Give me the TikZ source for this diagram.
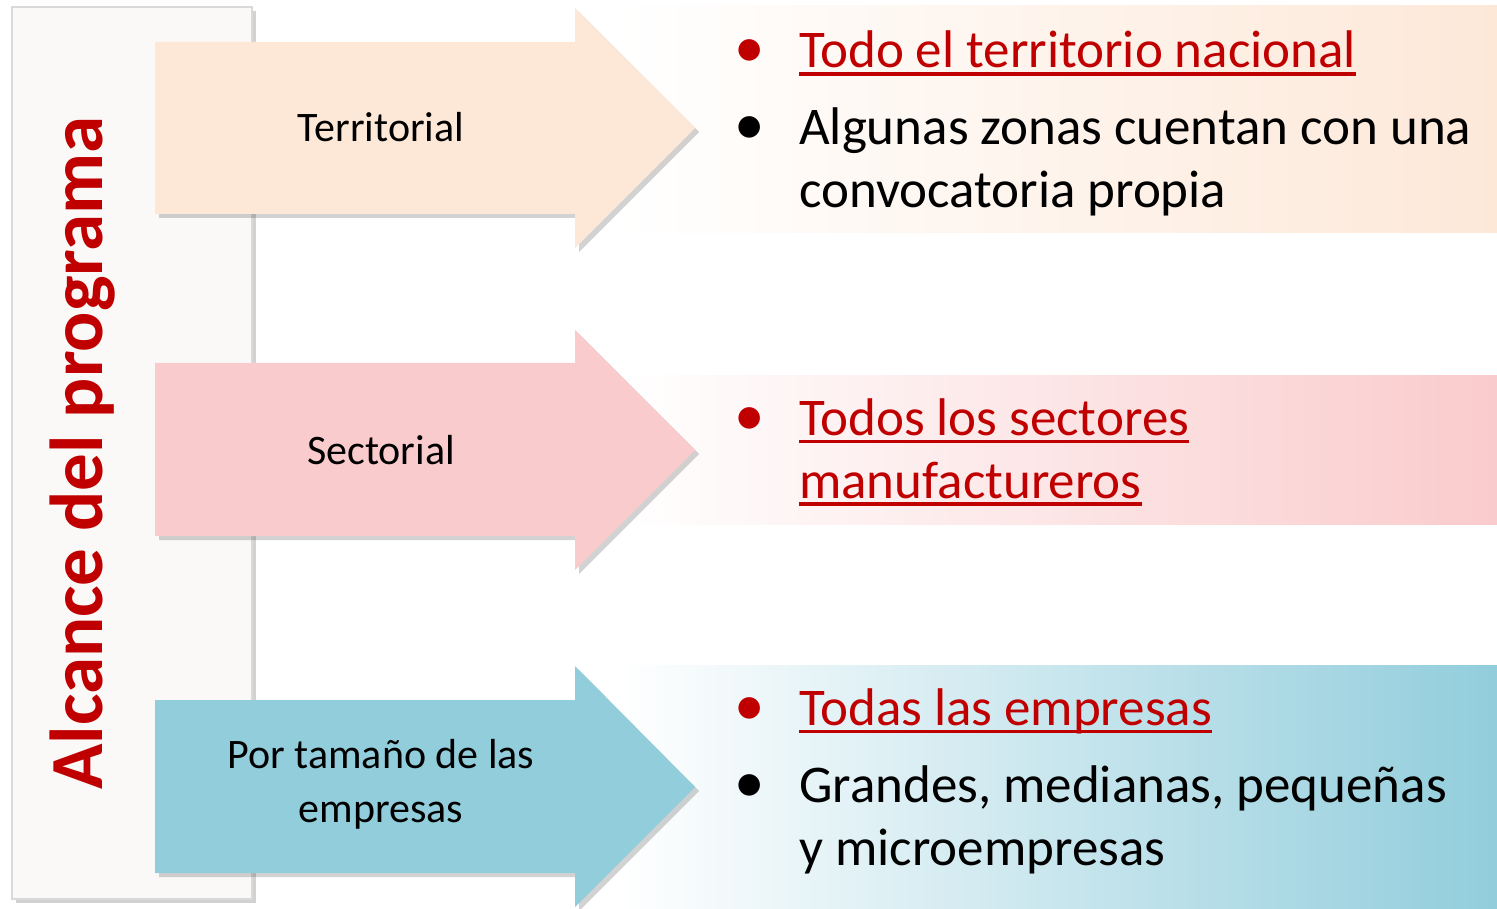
\documentclass[tikz,border=0pt]{standalone}
\usepackage{fontspec}
\setmainfont{Carlito}
\usepackage{xcolor}
\usetikzlibrary{shadows,positioning}
\definecolor{alcred}{HTML}{C00000}
\definecolor{peach}{HTML}{FDE8D8}
\definecolor{rosa}{HTML}{FACBCC}
\definecolor{celeste}{HTML}{92CDDC}
\definecolor{panelgray}{HTML}{FAF9F8}
\tikzset{
    sombra/.style={drop shadow={shadow xshift=4pt,shadow yshift=-4pt,fill=black!70,opacity=0.25}},
    panel/.style={draw=black!15,line width=2pt,fill=panelgray,sombra},
    lbl/.style={inner sep=0pt,anchor=base,align=center,font=\fontsize{42}{54}\selectfont},
    item/.style={inner sep=0pt,anchor=base west,font=\fontsize{53}{63}\selectfont}
}
\newcommand\redul[1]{\setbox0\hbox{#1}\rlap{\rule[-8pt]{\wd0}{3.5pt}}\box0}
\newcommand\punto[2]{\parbox[t]{740pt}{\hangindent=65pt\hangafter=1\noindent\makebox[65pt][l]{\textcolor{#1}{\scalebox{1.15}{\textbullet}}}#2}}

\begin{document}
\begin{tikzpicture}[x=1pt,y=-1pt]
    \useasboundingbox (0,0) rectangle (1497,909);

    % Left panel
    \draw[panel] (12,7) rectangle (252,899);

    % Gradient boxes on the right
    \shade[left color=white,right color=peach] (620,6) rectangle (1497,233);
    \shade[left color=white,right color=rosa] (620,375) rectangle (1497,524);
    \shade[left color=white,right color=celeste] (620,665) rectangle (1497,908);

    % Arrows
    \fill[peach,sombra] (155,42) -- (575,42) -- (575,8) -- (695,128) -- (575,248) -- (575,214) -- (155,214) -- cycle;
    \fill[rosa,sombra] (155,363) -- (575,363) -- (575,330) -- (695,450) -- (575,570) -- (575,536) -- (155,536) -- cycle;
    \fill[celeste,sombra] (155,700) -- (575,700) -- (575,666) -- (695,787) -- (575,907) -- (575,873) -- (155,873) -- cycle;

    % Title
    \node[rotate=90,anchor=base,inner sep=0pt,text=alcred,font=\fontsize{75}{90}\selectfont\bfseries] (alcance) at (102,453) {Alcance del programa};

    % Arrow labels
    \node[lbl] (territorial) at (381,142) {Territorial};
    \node[lbl] (sectorial) at (381,464) {Sectorial};
    \node[lbl] (tamano) at (381,822) {Por tamaño de las\\empresas};

    % Items
    \node[item] (todo) at (734,68) {\punto{alcred}{\color{alcred}\redul{Todo el territorio nacional}}};
    \node[item] (zonas) at (734,145) {\punto{black}{Algunas zonas cuentan con una\newline convocatoria propia}};
    \node[item] (sectores) at (734,435) {\punto{alcred}{\color{alcred}\redul{Todos los sectores}\newline\redul{manufactureros}}};
    \node[item] (empresas) at (734,725) {\punto{alcred}{\color{alcred}\redul{Todas las empresas}}};
    \node[item] (grandes) at (734,802) {\punto{black}{Grandes, medianas, pequeñas\newline y microempresas}};
\end{tikzpicture}
\end{document}
